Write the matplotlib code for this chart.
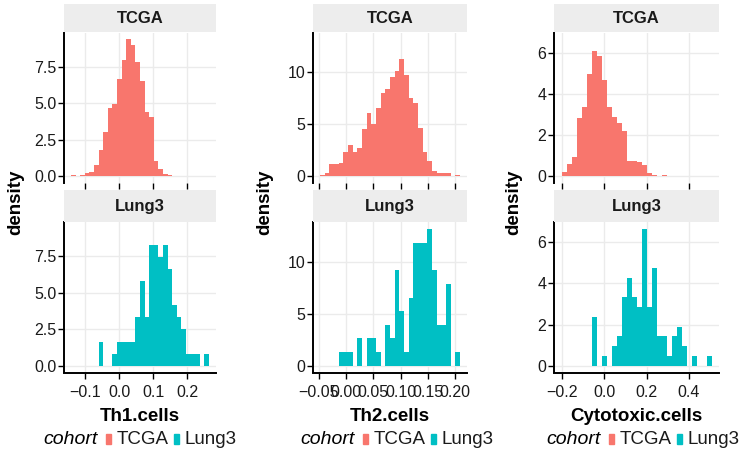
import numpy as np
import matplotlib
matplotlib.use("Agg")
import matplotlib.pyplot as plt
from matplotlib.patches import Rectangle

plt.rcParams["font.family"] = ["Liberation Sans", "DejaVu Sans"]

# ---- data (densities per histogram bin, 30 bins per column) ----
cohorts = ["TCGA", "Lung3"]
cohort_colors = ["#F8766D", "#00BFC4"]

th1_range = (-0.1423, 0.2645)
th1_tcga = [0.07, 0.02, 0.07, 0.23, 0.27, 0.76, 1.77, 3.04, 4.68, 4.97,
            6.65, 7.95, 9.37, 8.95, 7.80, 6.50, 4.37, 4.06, 1.05, 0.47,
            0.17, 0.06, 0.04, 0.02, 0.01, 0.01, 0.01, 0.00, 0.00, 0.01]
th1_lung3 = [0, 0, 0, 0, 0, 0, 1.66, 0, 0, 0.83,
             1.66, 1.66, 1.66, 1.66, 3.32, 5.80, 3.32, 8.29, 8.29, 7.46,
             8.29, 6.63, 4.14, 3.32, 2.49, 0.83, 0.83, 0.83, 0, 0.83]

th2_range = (-0.0473, 0.2087)
th2_tcga = [0.15, 0.30, 1.15, 1.20, 1.30, 2.30, 3.00, 2.30, 2.75, 4.55,
            6.10, 5.00, 6.60, 8.00, 8.40, 9.50, 10.10, 11.30, 9.70, 7.50,
            7.00, 4.60, 2.30, 1.50, 0.45, 0.30, 0.30, 0.30, 0.00, 0.15]
th2_lung3 = [0, 0, 0, 0, 1.32, 1.32, 1.32, 0, 2.63, 0,
             2.63, 2.63, 1.32, 0, 3.95, 2.63, 9.22, 5.27, 1.32, 6.58,
             11.85, 11.85, 11.85, 13.17, 9.22, 3.95, 3.95, 7.90, 0, 1.32]

cyto_range = (-0.202, 0.507)
cyto_tcga = [0.20, 0.58, 0.95, 2.80, 3.35, 4.94, 6.09, 5.82, 4.68, 3.35,
             2.87, 2.59, 2.18, 0.73, 0.72, 0.70, 0.53, 0.15, 0.07, 0.03,
             0.04, 0.02, 0.01, 0.01, 0.01, 0.01, 0.01, 0.01, 0.00, 0.00]
cyto_lung3 = [0, 0, 0, 0, 0, 0, 2.37, 0, 0.47, 0,
              0.95, 1.42, 3.32, 4.27, 3.32, 2.84, 6.64, 2.84, 4.74, 1.42,
              1.42, 0.47, 1.42, 1.90, 0.95, 0, 0.47, 0, 0, 0.47]

xlabels = ["Th1.cells", "Th2.cells", "Cytotoxic.cells"]
th1_xticks = [-0.1, 0.0, 0.1, 0.2]
th1_xticklabels = ["\u22120.1", "0.0", "0.1", "0.2"]
th2_xticks = [-0.05, 0.0, 0.05, 0.10, 0.15, 0.20]
th2_xticklabels = ["\u22120.05", "0.00", "0.05", "0.10", "0.15", "0.20"]
cyto_xticks = [-0.2, 0.0, 0.2, 0.4]
cyto_xticklabels = ["\u22120.2", "0.0", "0.2", "0.4"]
th1_yticks = [0, 2.5, 5.0, 7.5]
th1_yticklabels = ["0.0", "2.5", "5.0", "7.5"]
th2_yticks = [0, 5, 10]
th2_yticklabels = ["0", "5", "10"]
cyto_yticks = [0, 2, 4, 6]
cyto_yticklabels = ["0", "2", "4", "6"]

# ---- layout (pixels) ----
W, H = 740, 461
col_x = [(64, 216), (313, 467), (554, 719)]
ylab_x = [16, 265, 514]
legend_x = [43, 300, 546]
panel_y = [(32.5, 183), (222.4, 372.5)]
strip_y = [(4, 32.5), (190, 222.4)]
GRID = "#EBEBEB"
STRIP = "#EDEDED"
TXT = "#1a1a1a"

fig = plt.figure(figsize=(W / 100, H / 100), dpi=100)


def px_box(x0, y0, x1, y1):
    return [x0 / W, 1 - y1 / H, (x1 - x0) / W, (y1 - y0) / H]


columns = [
    (th1_range, th1_tcga, th1_lung3, th1_xticks, th1_xticklabels, th1_yticks, th1_yticklabels),
    (th2_range, th2_tcga, th2_lung3, th2_xticks, th2_xticklabels, th2_yticks, th2_yticklabels),
    (cyto_range, cyto_tcga, cyto_lung3, cyto_xticks, cyto_xticklabels, cyto_yticks, cyto_yticklabels),
]

renderer = fig.canvas.get_renderer()

for c, (rng, tcga, lung3, xt, xtl, yt, ytl) in enumerate(columns):
    left, right = col_x[c]
    lo, hi = rng
    edges = np.linspace(lo, hi, len(tcga) + 1)
    span = hi - lo
    ymax = max(max(tcga), max(lung3))

    for row, (name, dens, color) in enumerate(zip(cohorts, [tcga, lung3], cohort_colors)):
        top, bottom = panel_y[row]
        ax = fig.add_axes(px_box(left, top, right, bottom))
        ax.stairs(dens, edges, fill=True, color=color, linewidth=0)
        ax.set_xlim(lo - 0.05 * span, hi + 0.05 * span)
        ax.set_ylim(-0.05 * ymax, 1.05 * ymax)
        ax.set_xticks(xt)
        ax.set_xticklabels(xtl)
        ax.set_yticks(yt)
        ax.set_yticklabels(ytl)
        ax.grid(True, color=GRID, linewidth=1.0)
        ax.set_axisbelow(True)
        for s in ["top", "right"]:
            ax.spines[s].set_visible(False)
        ax.spines["left"].set_linewidth(1.4)
        ax.spines["bottom"].set_linewidth(1.4)
        ax.tick_params(axis="both", length=4, width=1, color="black",
                       labelsize=11.5, labelcolor=TXT)
        ax.tick_params(axis="y", pad=1.5)
        ax.tick_params(axis="x", pad=5)
        if row == 0:
            ax.spines["bottom"].set_visible(False)
            ax.tick_params(axis="x", labelbottom=False)
        else:
            ax.set_xlabel(xlabels[c], fontsize=13.5, fontweight="bold", labelpad=6)

        # ---- facet strip ----
        s_top, s_bottom = strip_y[row]
        sax = fig.add_axes(px_box(left, s_top, right, s_bottom))
        sax.set_facecolor(STRIP)
        sax.set_xticks([])
        sax.set_yticks([])
        for s in sax.spines.values():
            s.set_visible(False)
        sax.text(0.5, 0.5, name, ha="center", va="center",
                 fontsize=12, fontweight="bold", color=TXT)

    fig.text(ylab_x[c] / W, 1 - 202.5 / H, "density", rotation=90,
             ha="center", va="center", fontsize=13.5, fontweight="bold")

    # ---- legend under each column ----
    ly = 1 - 439 / H
    title = fig.text(0, ly, "cohort", fontsize=14, style="italic", va="center", ha="left")
    labs = [fig.text(0, ly, n, fontsize=13.5, va="center", ha="left", color=TXT) for n in cohorts]
    tw = title.get_window_extent(renderer).width
    lw = [t.get_window_extent(renderer).width for t in labs]
    key_w, key_h = 5, 10
    x = legend_x[c]
    title.set_x(x / W)
    x += tw + 9
    for k in range(2):
        fig.patches.append(Rectangle((x / W, 1 - 444 / H), key_w / W, key_h / H,
                                     transform=fig.transFigure, color=cohort_colors[k]))
        x += key_w + 5
        labs[k].set_x(x / W)
        x += lw[k] + 6

fig.savefig("out.png", dpi=100)
